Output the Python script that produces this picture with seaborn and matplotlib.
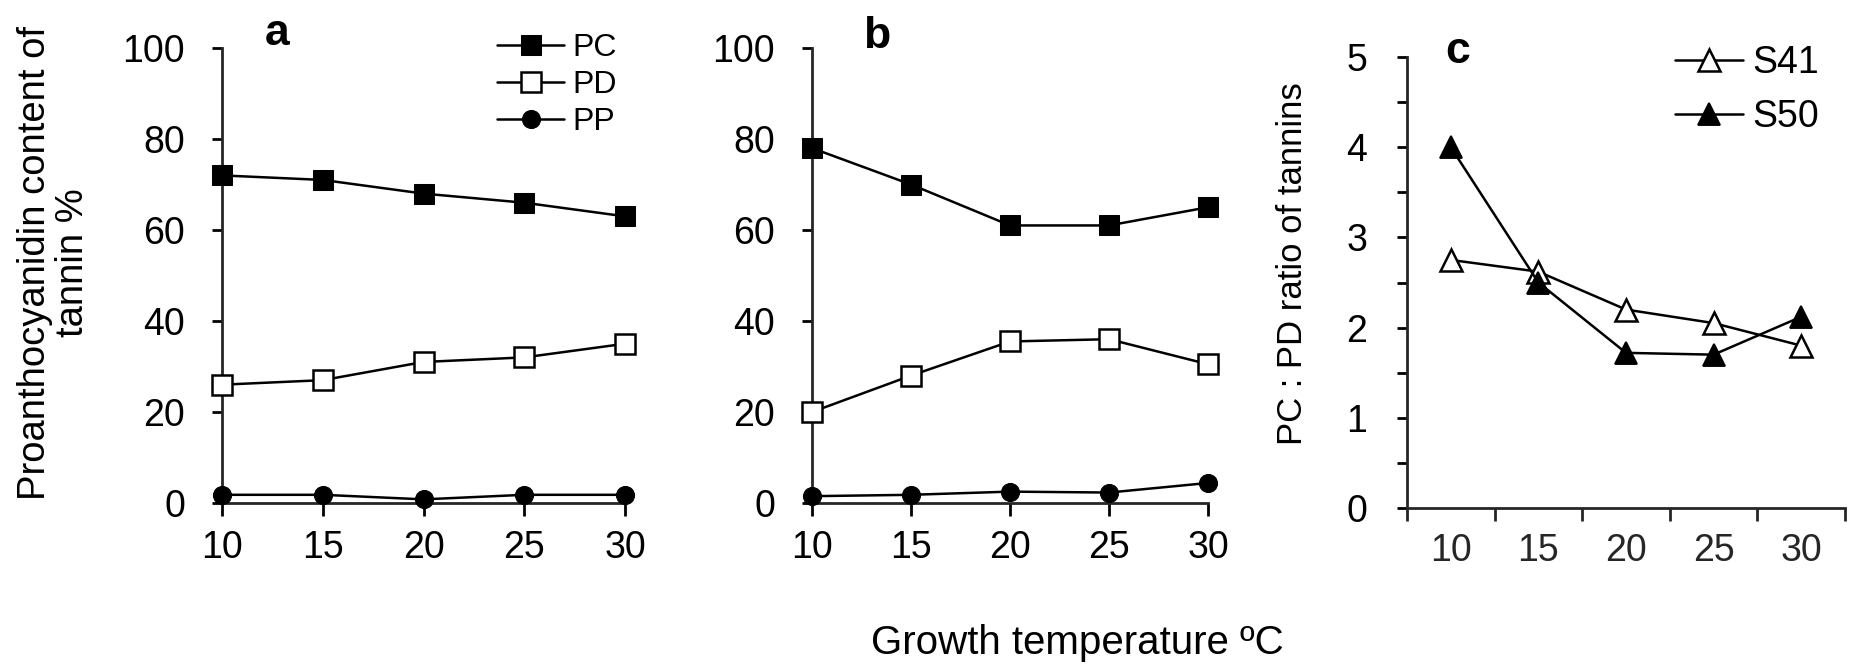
import numpy as np
import pandas as pd
import matplotlib
matplotlib.use("Agg")
import matplotlib.pyplot as plt
import seaborn as sns
from matplotlib.ticker import MultipleLocator, FixedLocator, NullFormatter

temps = [10, 15, 20, 25, 30]
temp_labels = ["10", "15", "20", "25", "30"]

# panel a
pc_a = [72, 71, 68, 66, 63]
pd_a = [26, 27, 31, 32, 35]
pp_a = [1.8, 1.8, 0.8, 1.8, 1.8]
# panel b
pc_b = [78, 70, 61, 61, 65]
pd_b = [20, 28, 35.5, 36, 30.5]
pp_b = [1.5, 1.8, 2.5, 2.3, 4.4]
# panel c
s41 = [2.75, 2.62, 2.2, 2.05, 1.8]
s50 = [4.0, 2.5, 1.72, 1.7, 2.12]

sns.set_theme(style="ticks")
plt.rcParams["font.family"] = ["Liberation Sans", "DejaVu Sans"]
plt.rcParams["axes.linewidth"] = 2.0
plt.rcParams["xtick.major.width"] = 2.0
plt.rcParams["ytick.major.width"] = 2.0
plt.rcParams["ytick.minor.width"] = 2.0
plt.rcParams["xtick.major.size"] = 9.5
plt.rcParams["ytick.major.size"] = 7.5
plt.rcParams["ytick.minor.size"] = 7.5
plt.rcParams["text.color"] = "black"

W, H = 1857, 670
fig = plt.figure(figsize=(W / 100, H / 100), dpi=100)

def fx(px):
    return px / W

def fy(px):
    return 1 - px / H

ax_a = fig.add_axes([fx(222), fy(503), fx(625 - 222), fy(48) - fy(503)])
ax_b = fig.add_axes([fx(812), fy(503), fx(1208 - 812), fy(48) - fy(503)])
ax_c = fig.add_axes([fx(1407), fy(508), fx(1845 - 1407), fy(57) - fy(508)])

tick_fs = 27
lw = 1.8
ms_sq = 14
ms_ci = 13
ms_tr = 16

def draw_panel(ax, pc, pdv, pp, label, lx, ly):
    df = pd.DataFrame({"temp": temps, "PC": pc, "PD": pdv, "PP": pp})
    sns.lineplot(data=df, x="temp", y="PC", ax=ax, color="black", lw=lw,
                 marker="s", markersize=ms_sq, markerfacecolor="black",
                 markeredgecolor="black", label="PC", clip_on=False, zorder=3)
    sns.lineplot(data=df, x="temp", y="PD", ax=ax, color="black", lw=lw,
                 marker="s", markersize=ms_sq, markerfacecolor="white",
                 markeredgecolor="black", markeredgewidth=1.8, label="PD",
                 clip_on=False, zorder=3)
    sns.lineplot(data=df, x="temp", y="PP", ax=ax, color="black", lw=lw,
                 marker="o", markersize=ms_ci, markerfacecolor="black",
                 markeredgecolor="black", label="PP", clip_on=False, zorder=3)
    ax.set_xlim(10, 30)
    ax.set_ylim(0, 100)
    ax.set_xticks(temps)
    ax.set_xticklabels(temp_labels)
    ax.set_yticks([0, 20, 40, 60, 80, 100])
    ax.tick_params(axis="y", labelsize=tick_fs, colors="black", pad=19)
    ax.tick_params(axis="x", labelsize=tick_fs, colors="black", pad=10)
    ax.set_xlabel("")
    ax.set_ylabel("")
    sns.despine(ax=ax)
    fig.text(fx(lx), fy(ly), label, fontsize=32, fontweight="bold",
             ha="center", va="baseline")

draw_panel(ax_a, pc_a, pd_a, pp_a, "a", 277, 45)
draw_panel(ax_b, pc_b, pd_b, pp_b, "b", 877, 48)

ax_a.legend(loc="center left", bbox_to_anchor=(fx(497), fy(85)),
            bbox_transform=fig.transFigure, frameon=False,
            fontsize=23, handlelength=2.1, handletextpad=0.25,
            labelspacing=0.22, borderpad=0, borderaxespad=0)
if ax_b.get_legend() is not None:
    ax_b.get_legend().remove()

fig.text(fx(54), fy(263), "Proanthocyanidin content of\ntannin %", fontsize=27.5,
         rotation=90, ha="center", va="center", linespacing=1.1,
         multialignment="center")

# panel c
dfc = pd.DataFrame({"temp": temp_labels, "S41": s41, "S50": s50})
sns.pointplot(data=dfc, x="temp", y="S41", ax=ax_c, color="black",
              markers="^", markersize=ms_tr, linewidth=lw,
              markerfacecolor="white", markeredgecolor="black",
              markeredgewidth=1.8, label="S41")
sns.pointplot(data=dfc, x="temp", y="S50", ax=ax_c, color="black",
              markers="^", markersize=ms_tr, linewidth=lw,
              markerfacecolor="black", markeredgecolor="black", label="S50")
ax_c.set_xlim(-0.5, 4.5)
ax_c.set_ylim(0, 5)
ax_c.xaxis.set_major_locator(FixedLocator(np.arange(-0.5, 4.6, 1.0)))
ax_c.xaxis.set_major_formatter(NullFormatter())
ax_c.set_xticks(np.arange(0, 5), labels=temp_labels, minor=True)
ax_c.tick_params(axis="x", which="minor", length=0, labelsize=tick_fs, pad=18)
ax_c.tick_params(axis="x", which="major", length=9.5)
ax_c.yaxis.set_major_locator(MultipleLocator(1))
ax_c.yaxis.set_minor_locator(MultipleLocator(0.5))
ax_c.tick_params(axis="y", which="both", labelsize=tick_fs, colors="black", pad=21)
ax_c.set_xlabel("")
ax_c.set_ylabel("")
sns.despine(ax=ax_c)
fig.text(fx(1458), fy(63), "c", fontsize=32, fontweight="bold",
         ha="center", va="baseline")
ax_c.legend(loc="center left", bbox_to_anchor=(fx(1675), fy(90)),
            bbox_transform=fig.transFigure, frameon=False, fontsize=27,
            handlelength=1.8, handletextpad=0.25, labelspacing=0.5,
            borderpad=0, borderaxespad=0)

fig.text(fx(1292), fy(264), "PC : PD ratio of tannins", fontsize=25,
         rotation=90, ha="center", va="center")

fig.text(fx(1077), fy(643), "Growth temperature \u00baC", fontsize=29,
         ha="center", va="center")

fig.savefig("out.png", dpi=100, facecolor="white")
